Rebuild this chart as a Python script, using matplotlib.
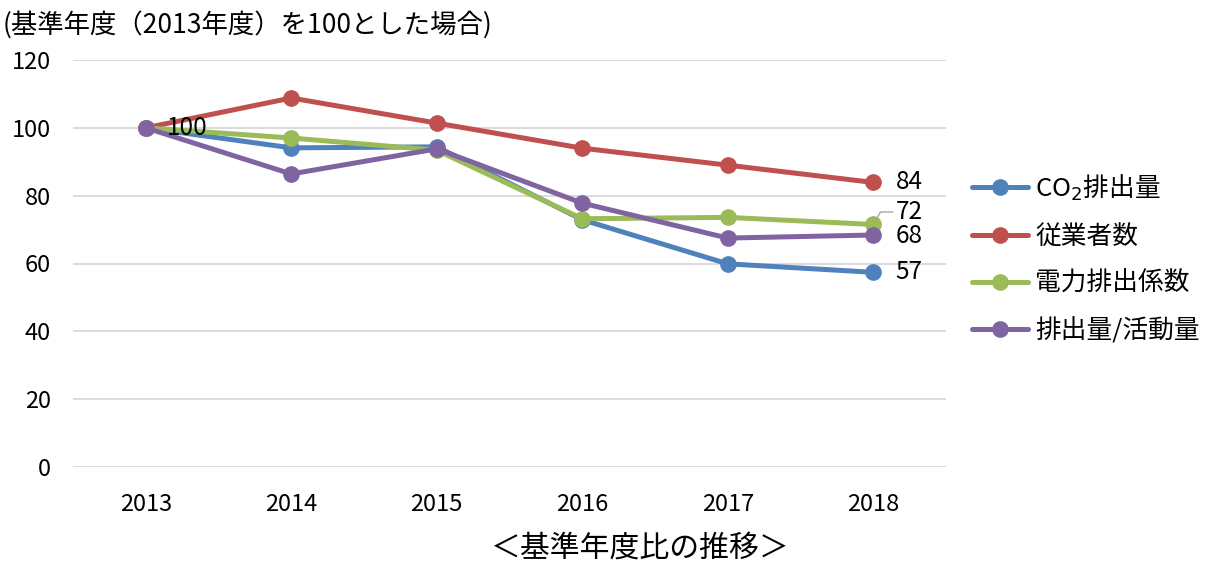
import matplotlib
matplotlib.use("Agg")
import matplotlib.pyplot as plt

plt.rcParams['font.family'] = ['Noto Sans CJK JP', 'DejaVu Sans']

years = ["2013", "2014", "2015", "2016", "2017", "2018"]
co2 = [100, 94.1, 94.4, 72.9, 59.9, 57.4]
employees = [100, 108.8, 101.4, 94.0, 89.0, 83.9]
power_factor = [100, 97.0, 93.4, 73.2, 73.6, 71.5]
per_activity = [100, 86.4, 93.8, 77.8, 67.5, 68.4]

series_names = ["CO$_2$排出量", "従業者数", "電力排出係数", "排出量/活動量"]
series_values = [co2, employees, power_factor, per_activity]
colors = ["#4F81BD", "#C0504D", "#9BBB59", "#8064A2"]
yticks = [0, 20, 40, 60, 80, 100, 120]

fig = plt.figure(figsize=(12.06, 5.62), dpi=100)
ax = fig.add_axes([73/1206, 1-467/562, (946-73)/1206, (467-60)/562])

x = list(range(len(years)))
handles = []
for name, vals, c in zip(series_names, series_values, colors):
    ln, = ax.plot(x, vals, color=c, lw=3.6, marker='o', markersize=11,
                  solid_capstyle='round', solid_joinstyle='round', label=name)
    handles.append(ln)

ax.set_xlim(-0.5, len(years) - 0.5)
ax.set_ylim(0, 120)
ax.set_yticks(yticks)
ax.set_yticklabels([str(v) for v in yticks])
ax.set_xticks(x)
ax.set_xticklabels(years)
ax.grid(axis='y', color='#D9D9D9', lw=1.3)
ax.set_axisbelow(True)
for s in ax.spines.values():
    s.set_visible(False)
ax.tick_params(axis='both', length=0, labelsize=17, colors='#000000')
ax.tick_params(axis='x', pad=19)
ax.tick_params(axis='y', pad=16)

lab_fs = 17.5
ax.annotate(f"{co2[0]:.0f}", (x[0], co2[0]), xytext=(15, 0), textcoords='offset points',
            ha='left', va='center', fontsize=lab_fs)
last = x[-1]
ax.annotate(f"{employees[-1]:.0f}", (last, employees[-1]), xytext=(16, 0), textcoords='offset points',
            ha='left', va='center', fontsize=lab_fs)
ax.annotate(f"{power_factor[-1]:.0f}", (last, power_factor[-1]), xytext=(16, 9), textcoords='offset points',
            ha='left', va='center', fontsize=lab_fs,
            arrowprops=dict(arrowstyle='-', color='#A6A6A6', lw=1,
                            connectionstyle='angle,angleA=0,angleB=60,rad=0',
                            shrinkA=0, shrinkB=5))
ax.annotate(f"{per_activity[-1]:.0f}", (last, per_activity[-1]), xytext=(16, -1), textcoords='offset points',
            ha='left', va='center', fontsize=lab_fs)
ax.annotate(f"{co2[-1]:.0f}", (last, co2[-1]), xytext=(16, 0), textcoords='offset points',
            ha='left', va='center', fontsize=lab_fs)

fig.legend(handles=handles, labels=series_names, loc='upper left',
           bbox_to_anchor=(962/1206, 1-162/562), frameon=False, fontsize=18.5,
           handlelength=2.15, handletextpad=0.3, labelspacing=0.82,
           borderaxespad=0)

fig.text(3/1206, 1-25/562, "(基準年度（2013年度）を100とした場合)", ha='left', va='center', fontsize=19)
fig.text(640/1206, 1-548/562, "＜基準年度比の推移＞", ha='center', va='center', fontsize=21.5)

fig.savefig("out.png", dpi=100, facecolor='white')
